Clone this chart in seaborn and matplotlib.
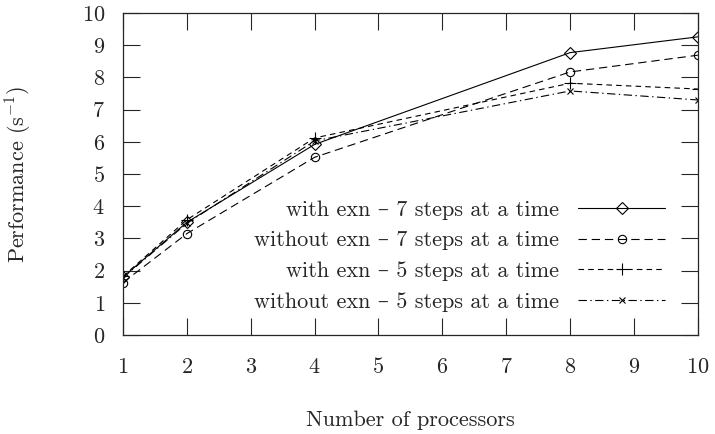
import numpy as np
import pandas as pd
import matplotlib
matplotlib.use("Agg")
import matplotlib.pyplot as plt
import seaborn as sns

# data
procs = [1, 2, 4, 8, 10]
with_exn_7 = [1.80, 3.50, 5.92, 8.77, 9.26]
without_exn_7 = [1.63, 3.15, 5.52, 8.17, 8.69]
with_exn_5 = [1.82, 3.58, 6.12, 7.82, 7.64]
without_exn_5 = [1.78, 3.47, 6.03, 7.58, 7.30]

labels = ["with exn \u2013 7 steps at a time",
          "without exn \u2013 7 steps at a time",
          "with exn \u2013 5 steps at a time",
          "without exn \u2013 5 steps at a time"]
series = [with_exn_7, without_exn_7, with_exn_5, without_exn_5]

sns.set_style("ticks")
plt.rcParams['font.family'] = ['cmr10', 'DejaVu Serif']
plt.rcParams['mathtext.fontset'] = 'cm'
plt.rcParams['axes.formatter.use_mathtext'] = True
plt.rcParams['font.size'] = 16
plt.rcParams['lines.scale_dashes'] = False

fig = plt.figure(figsize=(7.15, 4.34), dpi=100)
ax = fig.add_axes([0.172, 0.228, 0.804, 0.742])

styles = [
    dict(ls='-', marker='D', ms=6),
    dict(ls=(0, (6, 3.5)), marker='o', ms=6),
    dict(ls=(0, (4, 3)), marker='+', ms=8),
    dict(ls=(0, (6, 2.5, 1, 2.5)), marker='x', ms=5),
]

for lab, vals, st in zip(labels, series, styles):
    df = pd.DataFrame({"procs": procs, "perf": vals})
    sns.lineplot(data=df, x="procs", y="perf", ax=ax, color='black',
                 linestyle=st['ls'], marker=st['marker'], markersize=st['ms'],
                 markerfacecolor='none', markeredgecolor='black',
                 markeredgewidth=0.8, linewidth=0.8, label=lab)

ax.set_xlim(1, 10)
ax.set_ylim(0, 10)
ax.set_xticks(range(1, 11))
ax.set_yticks(range(0, 11))
ax.tick_params(direction='in', top=True, right=True, length=12, width=0.8,
               labelsize=16)
ax.tick_params(axis='x', pad=16)
ax.tick_params(axis='y', pad=13)
for s in ax.spines.values():
    s.set_linewidth(0.9)

ax.set_xlabel("Number of processors", fontsize=16, labelpad=24)
ax.set_ylabel("Performance (s$^{-1}$)", fontsize=16, labelpad=34)

ax.legend(loc='lower right', bbox_to_anchor=(665 / 715, (434 - 312) / 434),
          bbox_transform=fig.transFigure, frameon=False, borderpad=0,
          borderaxespad=0, markerfirst=False, handlelength=3.9,
          labelspacing=0.5, fontsize=16, handletextpad=0.85)

plt.savefig("out.png", dpi=100)
